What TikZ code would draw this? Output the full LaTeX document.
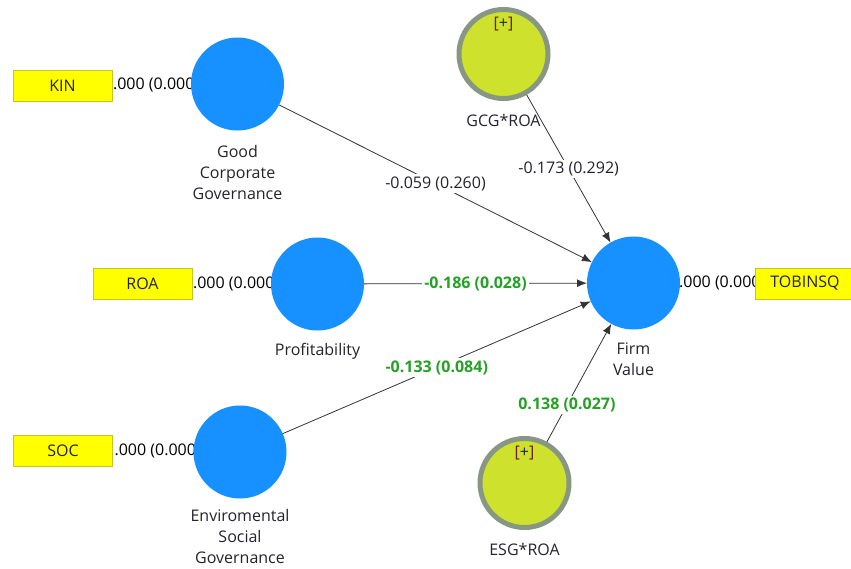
\documentclass[tikz,border=0pt]{standalone}
\usepackage{fontspec}
\setmainfont{Open Sans}
\usepackage{tikz}
\usetikzlibrary{arrows.meta}
\usetikzlibrary{positioning}
\usetikzlibrary{backgrounds}
\definecolor{lvblue}{RGB}{22,145,255}
\definecolor{indyellow}{RGB}{255,255,0}
\definecolor{indborder}{RGB}{196,196,40}
\definecolor{modfill}{RGB}{205,225,45}
\definecolor{modborder}{RGB}{136,150,132}
\definecolor{sigtext}{RGB}{38,160,38}
\definecolor{nametext}{RGB}{35,35,45}
\definecolor{plusbr}{RGB}{110,30,10}

\begin{document}
\begin{tikzpicture}[x=1pt,y=-1pt,
  font=\fontsize{16}{21}\selectfont,text=nametext,
  latent/.style={circle,fill=lvblue,minimum size=93pt,inner sep=0pt,outer sep=0pt},
  moder/.style={circle,fill=modfill,draw=modborder,line width=5pt,minimum size=89pt,inner sep=0pt},
  indic/.style={rectangle,fill=indyellow,draw=indborder,minimum width=99pt,minimum height=31pt,inner sep=0pt},
  lvname/.style={align=center,inner sep=0pt},
  coef/.style={fill=white,inner sep=2pt},
  sig/.style={coef,text=sigtext,font=\fontsize{16}{21}\selectfont\bfseries},
  relpath/.style={-{Latex[length=10pt,width=8pt]},draw=black!80,line width=0.8pt}]
  \useasboundingbox (0,0) rectangle (851,568);

  \node[latent] (gcg) at (237.5,84) {};
  \node[latent] (prof) at (317.5,284) {};
  \node[latent] (esg) at (240,452) {};
  \node[latent] (fv) at (633.5,283) {};
  \node[moder] (gcgroa) at (503.5,54) {};
  \node[moder] (esgroa) at (524.5,483) {};

  \node[indic] (kin) at (62.5,85.5) {KIN};
  \node[indic] (roa) at (142.5,283.5) {ROA};
  \node[indic] (soc) at (63,450.5) {SOC};
  \node[indic] (tobin) at (805,283.5) {TOBINSQ};

  \begin{scope}[on background layer]
    \draw (kin) -- (gcg) node[midway,coef,text=black]{1.000 (0.000)};
    \draw (roa) -- (prof) node[midway,coef,text=black]{1.000 (0.000)};
    \draw (soc) -- (esg) node[midway,coef,text=black]{1.000 (0.000)};
    \draw (fv) -- (tobin) node[midway,coef,text=black]{1.000 (0.000)};
  \end{scope}

  \node[lvname,below=15pt of gcg] (gcgname) {Good\\Corporate\\Governance};
  \node[lvname,below=13pt of prof] (profname) {Profitability};
  \node[lvname,below=11pt of esg] (esgname) {Enviromental\\Social\\Governance};
  \node[lvname,below=13pt of fv] (fvname) {Firm\\Value};
  \node[lvname,below=13pt of gcgroa] (gcgroaname) {GCG*ROA};
  \node[lvname,below=13pt of esgroa] (esgroaname) {ESG*ROA};

  \node (gcgplus) at ([yshift=30pt]gcgroa.center) {{\color{plusbr}[}+{\color{plusbr}]}};
  \node (esgplus) at ([yshift=30pt]esgroa.center) {{\color{plusbr}[}+{\color{plusbr}]}};

  \draw[relpath] (gcg) -- (fv) node[midway,coef]{-0.059 (0.260)};
  \draw[relpath] (prof) -- (fv) node[midway,sig]{-0.186 (0.028)};
  \draw[relpath] (esg) -- (fv) node[midway,sig]{-0.133 (0.084)};
  \draw[relpath] (gcgroa) -- (fv) node[midway,coef]{-0.173 (0.292)};
  \draw[relpath] (esgroa) -- (fv) node[pos=0.31,sig]{0.138 (0.027)};
\end{tikzpicture}
\end{document}
